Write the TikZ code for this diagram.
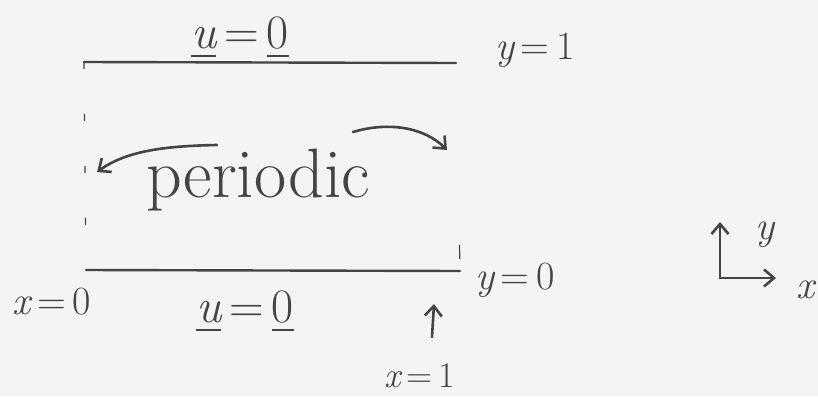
\documentclass[tikz,border=0pt]{standalone}
\usepackage{amsmath, amssymb}
\usepackage{tikz}
\usetikzlibrary{
  calc,%
  arrows,
  arrows.meta,
  positioning
}
\tikzset{>=latex}
\tikzset{font=\fontsize{40}{46}\selectfont}
\definecolor{ink}{HTML}{444444}
\definecolor{paper}{HTML}{F4F4F4}
\tikzset{
  wall/.style={line width=2.4pt, line cap=round},
  left side/.style={line width=1.2pt, dash pattern=on 7pt off 45pt},
  right side/.style={line width=1.2pt, dash pattern=on 0pt off 182pt on 14pt off 40pt},
  swap/.style={line width=2.6pt, -{Straight Barb[length=10pt, width=17pt]}, line cap=round},
  biglbl/.style={font=\fontsize{48}{54}\selectfont},
}

\begin{document}
\begin{tikzpicture}[x=1pt, y=-1pt, color=ink]
          \fill[paper] (0,0) rectangle (818,396); %
          \useasboundingbox (0,0) rectangle (818,396); %
          % the channel
          \coordinate (tl) at (84,62); %
          \coordinate (tr) at (456,63); %
          \coordinate (bl) at (86,270); %
          \coordinate (br) at (460,271); %
          \draw[wall] (tl) -- (tr); %
          \draw[wall] (bl) -- (br); %
          \draw[left side] (tl) -- (bl); %
          \draw[right side] (tr) -- (br); %
          \node[biglbl] (utop) at (240,38) {\underline{\itshape u}\,=\,\underline{0}}; %
          \node[biglbl] (ubot) at (245,312) {\underline{\itshape u}\,=\,\underline{0}}; %
          \node (ytop) at (535,50) {{\itshape y}\,=\,1}; %
          \node (ybot) at (515,280) {{\itshape y}\,=\,0}; %
          \node (xleft) at (52,302) {{\itshape x}\,=\,0}; %
          \node[font=\fontsize{36}{40}\selectfont] (xright) at (420,376) {{\itshape x}\,=\,1}; %
          \coordinate (xtail) at (432,337); %
          \coordinate (xhead) at (434,304); %
          \draw[swap] (xtail) -- (xhead); %
          % periodic in x
          \node[font=\fontsize{70}{76}\selectfont] (per) at (258,180) {periodic}; %
          \coordinate (la) at (217,145); %
          \coordinate (lb) at (97,172); %
          \coordinate (ra) at (353,132); %
          \coordinate (rb) at (447,150); %
          \draw[swap] (la) .. controls (160,146) and (125,152) .. (lb); %
          \draw[swap] (ra) .. controls (390,121) and (425,128) .. (rb); %
          % axes
          \coordinate (org) at (720,278); %
          \coordinate (yend) at (720,222); %
          \coordinate (xend) at (776,278); %
          \draw[swap, {Straight Barb[length=10pt, width=17pt]}-{Straight Barb[length=10pt, width=17pt]}] (yend) -- (org) -- (xend); %
          \node (ylab) at (765,235) {\itshape y}; %
          \node (xlab) at (805,290) {\itshape x}; %
        \end{tikzpicture}
\end{document}
